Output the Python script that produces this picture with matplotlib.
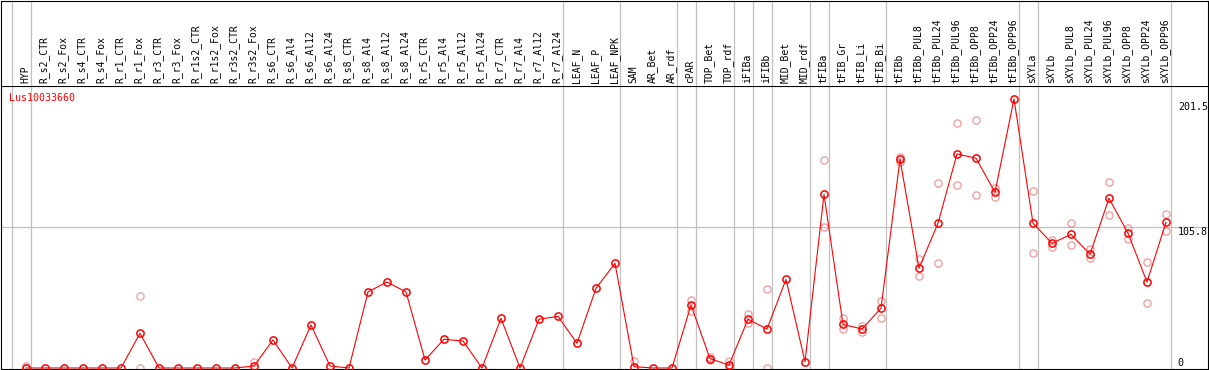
import numpy as np
import matplotlib
matplotlib.use('Agg')
import matplotlib.pyplot as plt

# categories (x axis, printed vertically in the header)
names = ['HYP',
         'R_s2_CTR', 'R_s2_Fox', 'R_s4_CTR', 'R_s4_Fox', 'R_r1_CTR', 'R_r1_Fox',
         'R_r3_CTR', 'R_r3_Fox', 'R_r1s2_CTR', 'R_r1s2_Fox', 'R_r3s2_CTR', 'R_r3s2_Fox',
         'R_s6_CTR', 'R_s6_Al4', 'R_s6_Al12', 'R_s6_Al24',
         'R_s8_CTR', 'R_s8_Al4', 'R_s8_Al12', 'R_s8_Al24',
         'R_r5_CTR', 'R_r5_Al4', 'R_r5_Al12', 'R_r5_Al24',
         'R_r7_CTR', 'R_r7_Al4', 'R_r7_Al12', 'R_r7_Al24',
         'LEAF_N', 'LEAF_P', 'LEAF_NPK',
         'SAM', 'AR_Bet', 'AR_rdf',
         'cPAR', 'TOP_Bet', 'TOP_rdf', 'iFIBa', 'iFIBb', 'MID_Bet', 'MID_rdf',
         'tFIBa', 'tFIB_Gr', 'tFIB_Li', 'tFIB_Bi',
         'tFIBb', 'tFIBb_PUL8', 'tFIBb_PUL24', 'tFIBb_PUL96', 'tFIBb_OPP8', 'tFIBb_OPP24', 'tFIBb_OPP96',
         'sXYLa',
         'sXYLb', 'sXYLb_PUL8', 'sXYLb_PUL24', 'sXYLb_PUL96', 'sXYLb_OPP8', 'sXYLb_OPP24', 'sXYLb_OPP96']

# number of categories in each block (gray separators between blocks)
group_sizes = [1, 28, 3, 3, 1, 2, 1, 1, 2, 1, 3, 7, 1, 7]

gene = 'Lus10033660'

# mean expression
mean = [0, 0, 0, 0, 0, 0, 26, 0, 0, 0, 0, 0,
        1.5, 21, 0, 32.2, 1.5, 0, 57, 64.4, 57, 6, 21.5, 20.2, 0, 37.2, 0, 36.5, 38.7,
        18.5, 59.7, 78.4, 1, 0, 0, 47.2, 7, 2.2, 36.5, 29.2, 66.4, 4.7,
        130, 32.7, 29.2, 44.7, 156.3, 74.7, 108.4, 160.3, 157.1, 131.6, 201.5,
        108.4, 93.4, 100.1, 85.2, 127.1, 100.9, 64.4, 109.1]

# visible replicate values (nan = hidden under the mean marker)
nan = np.nan
rep_hi = [1.5, nan, nan, nan, nan, nan, 53.7, nan, nan, nan, nan, nan,
          4.7, nan, nan, nan, nan, nan, nan, nan, nan, nan, nan, nan, nan, nan, nan, nan, nan,
          nan, nan, nan, 5.5, nan, nan, 51, 8.5, 5.5, 40.4, 59, nan, nan,
          155.8, 37.2, 31.5, 50.2, 157.8, 81.6, 138.3, 183.3, 185.5, 134.6, nan,
          132.6, 95.9, 108.4, 89.1, 139.1, 105.1, 79.6, 115.1]
rep_lo = [0, nan, nan, nan, nan, nan, 0, nan, nan, nan, nan, nan,
          nan, nan, nan, nan, nan, nan, nan, nan, nan, nan, nan, nan, nan, nan, nan, nan, nan,
          nan, nan, nan, nan, nan, nan, 43, 6, 0, 33.5, 0, nan, nan,
          105.4, 29.2, 26.7, 37.2, 154.5, 68.9, 78.7, 136.8, 129.4, 128.3, nan,
          85.9, 90.9, 92.1, 82.2, 114.4, 96.6, 48.5, 102.8]

ymax = 201.5
ymid = 105.8

W, H = 1209, 370
fig = plt.figure(figsize=(W / 100, H / 100), dpi=100)
plt.rcParams['font.family'] = 'DejaVu Sans Mono'

n = len(names)
x = np.arange(n)
xlim = ((1 - 26) / 19, (1208 - 26) / 19)

# data panel
ax = fig.add_axes([1 / W, 1 / H, 1207 / W, 283 / H])
ax.set_xlim(*xlim)
ax.set_ylim(-0.75, 211.2)
ax.set_xticks([])
ax.set_yticks([])
for s in ax.spines.values():
    s.set_color('black')
    s.set_linewidth(0.8)

# header panel
hx = fig.add_axes([1 / W, 284 / H, 1207 / W, 85.5 / H])
hx.set_xlim(*xlim)
hx.set_ylim(86, 0)
hx.set_xticks([])
hx.set_yticks([])
hx.spines['bottom'].set_visible(False)
for s in hx.spines.values():
    s.set_color('black')
    s.set_linewidth(0.8)

# block separators
bounds = np.concatenate([[-1], np.cumsum(group_sizes) - 1]) + 0.25
for b in bounds:
    ax.axvline(b, color='#c0c0c0', lw=0.9, zorder=0)
    hx.axvline(b, color='#c0c0c0', lw=0.9, zorder=0)

ax.axhline(ymid, color='#c0c0c0', lw=0.9, zorder=0)

# replicates
ax.plot(x, rep_hi, 'o', mfc='none', mec='#f09898', ms=5.2, mew=0.9, zorder=2, clip_on=False)
ax.plot(x, rep_lo, 'o', mfc='none', mec='#f09898', ms=5.2, mew=0.9, zorder=2, clip_on=False)
# mean line
ax.plot(x, mean, '-', color='red', lw=0.8, zorder=3, clip_on=False)
ax.plot(x, mean, 'o', mfc='none', mec='red', ms=5.2, mew=1.1, zorder=4, clip_on=False)

for i, name in enumerate(names):
    hx.text(i - 0.05, 83, name, rotation=90, ha='center', va='bottom', fontsize=7, color='black')

ax.text(0.007, 0.977, gene, transform=ax.transAxes, color='red', fontsize=7.2, ha='left', va='top')

yt = ax.get_yaxis_transform()
ax.text(0.975, ymax - 2, str(ymax), transform=yt, ha='left', va='top', fontsize=7.2)
ax.text(0.975, ymid, str(ymid), transform=yt, ha='left', va='top', fontsize=7.2)
ax.text(0.975, 0, '0', transform=yt, ha='left', va='bottom', fontsize=7.2)

plt.savefig('out.png', dpi=100)
